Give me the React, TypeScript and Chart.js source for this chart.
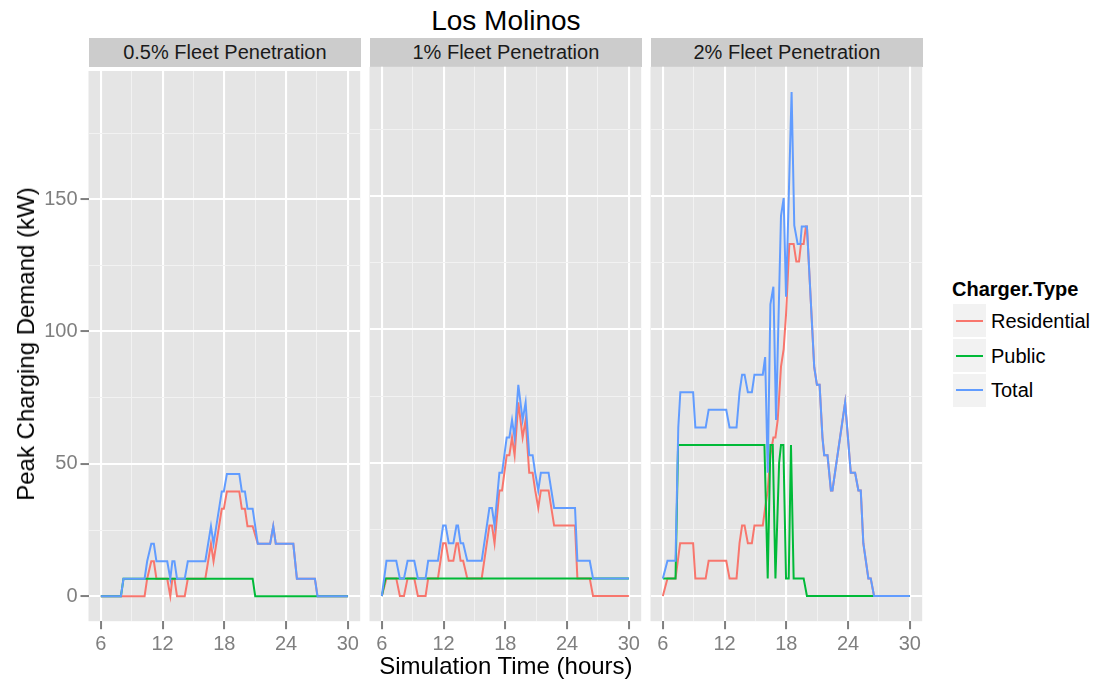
import React, { useEffect, useRef } from "react";
import { Chart, registerables } from "chart.js";

Chart.register(...registerables);

// ---------- axis ticks ----------
const HOURS_MAJOR = [6, 12, 18, 24, 30];
const HOURS_MINOR = [9, 15, 21, 27];
const KW_MAJOR = [0, 50, 100, 150];
const KW_MINOR = [25, 75, 125, 175];
const X_MIN = 4.8;
const X_MAX = 31.2;
const Y_MIN = -9.45;
const Y_MAX = 198.45;

// ---------- labels ----------
const CHART_TITLE = "Los Molinos";
const PANEL_TITLES = ["0.5% Fleet Penetration", "1% Fleet Penetration", "2% Fleet Penetration"];
const SERIES_NAMES = ["Residential", "Public", "Total"];
const SERIES_COLORS = ["#F8766D", "#00BA38", "#619CFF"];
const X_TITLE = "Simulation Time (hours)";
const Y_TITLE = "Peak Charging Demand (kW)";
const LEGEND_TITLE = "Charger.Type";

type Pt = [number, number];

// ---------- 0.5% fleet penetration ----------
const res05: Pt[] = [
  [6, 0], [10.25, 0], [10.5, 6.6], [10.9, 13.2], [11.15, 13.2], [11.4, 6.6], [12.45, 6.6], [12.75, 0],
  [12.95, 6.6], [13.15, 6.6], [13.4, 0], [14.15, 0], [14.45, 6.6], [16.15, 6.6], [16.7, 19.8], [16.95, 13.2],
  [17.75, 33], [17.95, 33], [18.25, 39.6], [19.45, 39.6], [19.7, 33], [20.0, 33], [20.25, 26.4], [20.75, 26.4],
  [21.25, 19.8], [22.45, 19.8], [22.75, 26.4], [23.0, 19.8], [24.7, 19.8], [25.05, 6.6], [26.8, 6.6],
  [27.05, 0], [30, 0],
];
const pub05: Pt[] = [[6, 0], [7.95, 0], [8.2, 6.6], [20.75, 6.6], [21.0, 0], [30, 0]];
const tot05: Pt[] = [
  [6, 0], [7.95, 0], [8.2, 6.6], [10.25, 6.6], [10.5, 13.2], [10.9, 19.8], [11.15, 19.8], [11.4, 13.2],
  [12.45, 13.2], [12.75, 6.6], [12.95, 13.2], [13.15, 13.2], [13.4, 6.6], [14.15, 6.6], [14.45, 13.2],
  [16.15, 13.2], [16.7, 26.4], [16.95, 19.8], [17.75, 39.6], [17.95, 39.6], [18.25, 46.2], [19.45, 46.2],
  [19.7, 39.6], [20.0, 39.6], [20.25, 33], [20.75, 33], [21.25, 19.8], [22.45, 19.8], [22.75, 26.4],
  [23.0, 19.8], [24.7, 19.8], [25.05, 6.6], [26.8, 6.6], [27.05, 0], [30, 0],
];

// ---------- 1% fleet penetration ----------
const res1: Pt[] = [
  [6, 0], [6.45, 6.6], [7.4, 6.6], [7.75, 0], [8.15, 0], [8.5, 6.6], [9.15, 6.6], [9.5, 0], [10.25, 0],
  [10.5, 6.6], [11.45, 6.6], [11.95, 19.8], [12.2, 19.8], [12.5, 13.2], [12.95, 13.2], [13.25, 19.8],
  [13.4, 19.8], [13.65, 13.2], [13.9, 13.2], [14.3, 6.6], [15.7, 6.6], [16.45, 26.4], [16.7, 26.4],
  [16.95, 19.8], [17.42, 39.6], [17.68, 39.6], [18.13, 52.8], [18.39, 52.8], [18.65, 59.4], [18.9, 52.8],
  [19.26, 72.6], [19.68, 59.4], [19.97, 66], [20.32, 46.2], [20.65, 46.2], [20.9, 39.6], [21.2, 33],
  [21.45, 39.6], [22.2, 39.6], [22.74, 26.4], [24.77, 26.4], [25.0, 6.6], [26.2, 6.6], [26.52, 0], [30, 0],
];
const pub1: Pt[] = [[6, 0], [6.35, 6.6], [30, 6.6]];
const tot1: Pt[] = [
  [6, 0], [6.45, 13.2], [7.4, 13.2], [7.75, 6.6], [8.15, 6.6], [8.5, 13.2], [9.15, 13.2], [9.5, 6.6],
  [10.25, 6.6], [10.5, 13.2], [11.45, 13.2], [11.95, 26.4], [12.2, 26.4], [12.5, 19.8], [12.95, 19.8],
  [13.25, 26.4], [13.4, 26.4], [13.65, 19.8], [13.9, 19.8], [14.3, 13.2], [15.7, 13.2], [16.45, 33],
  [16.7, 33], [16.95, 26.4], [17.42, 46.2], [17.68, 46.2], [18.13, 59.4], [18.39, 59.4], [18.65, 66],
  [18.9, 59.4], [19.26, 79.2], [19.68, 66], [19.97, 72.6], [20.32, 52.8], [20.65, 52.8], [20.9, 46.2],
  [21.2, 39.6], [21.45, 46.2], [22.2, 46.2], [22.74, 33], [24.77, 33], [25.0, 13.2], [26.2, 13.2],
  [26.52, 6.6], [30, 6.6],
];

// ---------- 2% fleet penetration ----------
const res2: Pt[] = [
  [6, 0], [6.45, 6.6], [7.23, 6.6], [7.68, 19.8], [8.94, 19.8], [9.16, 6.6], [10.16, 6.6], [10.45, 13.2],
  [12.16, 13.2], [12.48, 6.6], [13.16, 6.6], [13.45, 19.8], [13.7, 26.4], [13.94, 26.4], [14.26, 19.8],
  [14.65, 19.8], [14.9, 26.4], [15.71, 26.4], [15.94, 33], [16.19, 39.6], [16.45, 52.8], [16.74, 59.4],
  [16.94, 59.4], [17.16, 66], [17.48, 86], [17.74, 92.6], [17.97, 105.6], [18.29, 132], [18.71, 132],
  [18.97, 125.4], [19.23, 125.4], [19.42, 132], [19.68, 132], [19.9, 138.6], [20.0, 138.6], [20.71, 85.8],
  [20.97, 79.2], [21.23, 79.2], [21.51, 59.4], [21.68, 52.8], [22.0, 52.8], [22.33, 39.6], [22.48, 39.6],
  [23.71, 72.6], [24.26, 46.2], [24.68, 46.2], [25.0, 39.6], [25.23, 39.6], [25.48, 19.8], [25.97, 6.6],
  [26.2, 6.6], [26.52, 0], [30, 0],
];
const pub2: Pt[] = [
  [6, 6.6], [7.23, 6.6], [7.48, 56.6], [15.87, 56.6], [16.19, 6.6], [16.45, 56.6], [16.68, 56.6],
  [16.94, 6.6], [17.3, 50], [17.48, 56.6], [17.71, 56.6], [17.97, 6.6], [18.23, 6.6], [18.45, 56.6],
  [18.71, 6.6], [19.68, 6.6], [20.0, 0], [30, 0],
];
const tot2: Pt[] = [
  [6, 6.6], [6.45, 13.2], [7.23, 13.2], [7.5, 63.2], [7.7, 76.4], [8.94, 76.4], [9.16, 63.2], [10.16, 63.2],
  [10.45, 69.8], [12.16, 69.8], [12.48, 63.2], [13.16, 63.2], [13.45, 76.4], [13.7, 83], [13.94, 83],
  [14.26, 76.4], [14.65, 76.4], [14.9, 83], [15.71, 83], [15.94, 89.6], [16.19, 46.2], [16.45, 109.4],
  [16.74, 116], [17.0, 66], [17.48, 142.6], [17.74, 149.2], [17.97, 112.2], [18.51, 189], [18.77, 139],
  [19.1, 132], [19.36, 132], [19.5, 138.6], [20.0, 138.6], [20.71, 85.8], [20.97, 79.2], [21.23, 79.2],
  [21.51, 59.4], [21.68, 52.8], [22.0, 52.8], [22.33, 39.6], [22.48, 39.6], [23.71, 72.6], [24.26, 46.2],
  [24.68, 46.2], [25.0, 39.6], [25.23, 39.6], [25.48, 19.8], [25.97, 6.6], [26.2, 6.6], [26.52, 0], [30, 0],
];

const PANEL_SERIES: Pt[][][] = [
  [res05, pub05, tot05],
  [res1, pub1, tot1],
  [res2, pub2, tot2],
];

// ---------- layout (pixels) ----------
const W = 1098;
const H = 683;
const PANEL_LEFTS = [88.5, 369.5, 650.5];
const PANEL_W = 272.8;
const PLOT_TOP = 66.8;
const PLOT_BOTTOM = 621.2;
const CANVAS_TOP = 56;
const STRIP_TOP = 38;
const STRIP_H = 28.8;
const FONT = "'Liberation Sans', Arial, Helvetica, sans-serif";
const SMALL = 20;
const AXIS_TITLE = 24;

const panelBg = {
  id: "panelBg",
  beforeDraw(chart: any) {
    const { ctx, chartArea: a } = chart;
    ctx.save();
    ctx.fillStyle = "#E5E5E5";
    ctx.fillRect(a.left, a.top, a.right - a.left, a.bottom - a.top);
    ctx.restore();
  },
};

function Panel({ index }: { index: number }) {
  const ref = useRef<HTMLCanvasElement | null>(null);
  const showY = index === 0;
  const pLeft = PANEL_LEFTS[index];
  const canvasLeft = showY ? 0 : Math.floor(pLeft);
  const canvasRight = Math.ceil(pLeft + PANEL_W);
  const cw = canvasRight - canvasLeft;
  const ch = H - CANVAS_TOP;
  const yAxisW = pLeft - canvasLeft;
  const padRight = canvasRight - (pLeft + PANEL_W);
  const xAxisH = H - PLOT_BOTTOM;

  useEffect(() => {
    if (!ref.current) return;
    const series = PANEL_SERIES[index];
    const chart = new Chart(ref.current, {
      type: "line",
      data: {
        datasets: series.map((pts, i) => ({
          label: SERIES_NAMES[i],
          data: pts.map(([x, y]) => ({ x, y })),
          borderColor: SERIES_COLORS[i],
          backgroundColor: SERIES_COLORS[i],
          borderWidth: 2,
          pointRadius: 0,
          tension: 0,
          fill: false,
          order: 3 - i,
        })),
      },
      options: {
        animation: false,
        responsive: false,
        maintainAspectRatio: false,
        events: [],
        layout: { padding: { top: PLOT_TOP - CANVAS_TOP, right: padRight, left: 0, bottom: 0 } },
        plugins: { legend: { display: false }, tooltip: { enabled: false }, title: { display: false } },
        scales: {
          x: {
            type: "linear",
            min: X_MIN,
            max: X_MAX,
            afterBuildTicks: (s: any) => {
              s.ticks = [...HOURS_MAJOR, ...HOURS_MINOR].sort((a, b) => a - b).map((v) => ({ value: v }));
            },
            afterFit: (s: any) => {
              s.height = xAxisH;
            },
            border: { display: false },
            grid: {
              color: (c: any) => (HOURS_MAJOR.includes(c.tick?.value) ? "#FFFFFF" : "#F2F2F2"),
              lineWidth: (c: any) => (HOURS_MAJOR.includes(c.tick?.value) ? 2.1 : 1),
              tickColor: (c: any) => (HOURS_MAJOR.includes(c.tick?.value) ? "#7F7F7F" : "rgba(0,0,0,0)"),
              tickWidth: 2,
              tickLength: 8,
              drawTicks: true,
            },
            ticks: {
              autoSkip: false,
              maxRotation: 0,
              padding: 3,
              color: "#7F7F7F",
              font: { family: FONT, size: SMALL },
              callback: (v: any) => (HOURS_MAJOR.includes(Number(v)) ? String(v) : ""),
            },
          },
          y: {
            type: "linear",
            min: Y_MIN,
            max: Y_MAX,
            afterBuildTicks: (s: any) => {
              s.ticks = [...KW_MAJOR, ...KW_MINOR].sort((a, b) => a - b).map((v) => ({ value: v }));
            },
            afterFit: (s: any) => {
              s.width = yAxisW;
            },
            border: { display: false },
            grid: {
              color: (c: any) => (KW_MAJOR.includes(c.tick?.value) ? "#FFFFFF" : "#F2F2F2"),
              lineWidth: (c: any) => (KW_MAJOR.includes(c.tick?.value) ? 2.1 : 1),
              tickColor: (c: any) => (KW_MAJOR.includes(c.tick?.value) ? "#7F7F7F" : "rgba(0,0,0,0)"),
              tickWidth: 2,
              tickLength: 8,
              drawTicks: showY,
            },
            ticks: {
              display: showY,
              autoSkip: false,
              padding: 3,
              color: "#7F7F7F",
              font: { family: FONT, size: SMALL },
              callback: (v: any) => (KW_MAJOR.includes(Number(v)) ? String(v) : ""),
            },
          },
        },
      },
      plugins: [panelBg],
    } as any);
    return () => chart.destroy();
  }, [index]);

  return (
    <canvas
      ref={ref}
      width={cw}
      height={ch}
      style={{ position: "absolute", left: canvasLeft, top: CANVAS_TOP, width: cw, height: ch }}
    />
  );
}

const textBase: React.CSSProperties = {
  position: "absolute",
  whiteSpace: "nowrap",
  lineHeight: 1,
  fontFamily: FONT,
};

export default function App() {
  const centerX = (PANEL_LEFTS[0] + PANEL_LEFTS[2] + PANEL_W) / 2;
  const legendRows = [320.5, 355.5, 390];
  return (
    <div style={{ position: "absolute", left: 0, top: 0, width: W, height: H, background: "#FFFFFF", overflow: "hidden" }}>
      <div style={{ ...textBase, left: centerX, top: 21, transform: "translate(-50%,-50%)", fontSize: 28, color: "#000" }}>
        {CHART_TITLE}
      </div>
      {PANEL_TITLES.map((t, i) => (
        <div
          key={t}
          style={{
            position: "absolute",
            left: PANEL_LEFTS[i],
            top: STRIP_TOP,
            width: PANEL_W,
            height: STRIP_H,
            background: "#CCCCCC",
            display: "flex",
            alignItems: "center",
            justifyContent: "center",
            fontFamily: FONT,
            fontSize: SMALL,
            color: "#1A1A1A",
            whiteSpace: "nowrap",
          }}
        >
          {t}
        </div>
      ))}
      {[0, 1, 2].map((i) => (
        <Panel key={i} index={i} />
      ))}
      <div style={{ ...textBase, left: centerX, top: 666, transform: "translate(-50%,-50%)", fontSize: AXIS_TITLE, color: "#000" }}>
        {X_TITLE}
      </div>
      <div
        style={{
          ...textBase,
          left: 26,
          top: (PLOT_TOP + PLOT_BOTTOM) / 2,
          transform: "translate(-50%,-50%) rotate(-90deg)",
          fontSize: AXIS_TITLE,
          color: "#000",
        }}
      >
        {Y_TITLE}
      </div>
      <div style={{ ...textBase, left: 952, top: 289, transform: "translateY(-50%)", fontSize: SMALL, fontWeight: "bold", color: "#000" }}>
        {LEGEND_TITLE}
      </div>
      {SERIES_NAMES.map((n, i) => (
        <React.Fragment key={n}>
          <div
            style={{
              position: "absolute",
              left: 953,
              top: legendRows[i] - 16.5,
              width: 33,
              height: 33,
              background: "#F2F2F2",
            }}
          />
          <div
            style={{
              position: "absolute",
              left: 956,
              top: legendRows[i] - 1,
              width: 27,
              height: 2,
              background: SERIES_COLORS[i],
            }}
          />
          <div style={{ ...textBase, left: 991, top: legendRows[i], transform: "translateY(-50%)", fontSize: SMALL, color: "#000" }}>
            {n}
          </div>
        </React.Fragment>
      ))}
    </div>
  );
}
